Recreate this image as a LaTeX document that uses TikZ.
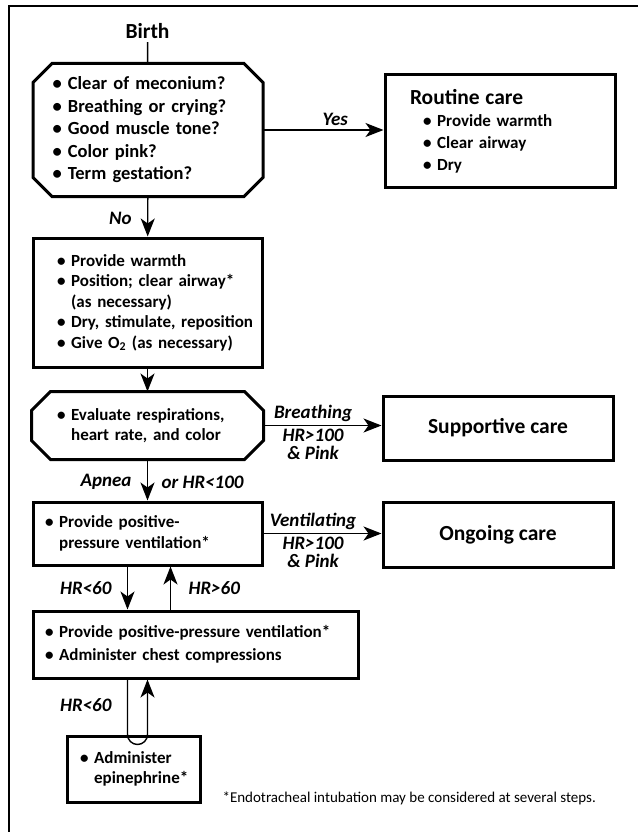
\documentclass[tikz,border=0pt]{standalone}
\usepackage{fontspec}
\setmainfont{Carlito}
\usetikzlibrary{arrows.meta,positioning}
\newcommand{\bul}{\textbullet~}
\newcommand{\bulind}{\hphantom{\textbullet~}}
\newcommand{\octo}[1]{\draw[boxline] ([xshift=19pt]#1.north west) -- ([xshift=-19pt]#1.north east) -- ([yshift=-19pt]#1.north east) -- ([yshift=19pt]#1.south east) -- ([xshift=-19pt]#1.south east) -- ([xshift=19pt]#1.south west) -- ([yshift=19pt]#1.south west) -- ([yshift=-19pt]#1.north west) -- cycle;}

\begin{document}
\begin{tikzpicture}[x=1pt, y=-1pt,
         boxline/.style={line width=3pt},
         box/.style={draw, line width=3pt, align=left, font=\fontsize{17}{21}\selectfont\bfseries},
         octbox/.style={box, draw=none},
         title/.style={font=\fontsize{21.5}{25}\selectfont\bfseries},
         lab/.style={font=\fontsize{19}{18}\selectfont\bfseries\itshape, align=center},
         arr/.style={line width=1.4pt, -{Stealth[length=18pt, width=14pt, inset=5pt]}},
         link/.style={line width=1.4pt}]
         \useasboundingbox (0,0) rectangle (638,832);
         \draw [line width=2pt] (9,832) -- (9,6) -- (638,6);
         \node [title] (BI) at (147.5, 31) {Birth};
         \node [octbox, font=\fontsize{18.5}{22.5}\selectfont\bfseries, minimum width=227pt, minimum height=130pt, inner xsep=18pt, text width=191pt] (B1) at (148, 130) {\bul Clear of meconium?\\ \bul Breathing or crying?\\ \bul Good muscle tone?\\ \bul Color pink?\\ \bul Term gestation?};
         \octo{B1}
         \node [box, font=\fontsize{17}{22}\selectfont\bfseries, minimum width=230pt, minimum height=112pt, inner xsep=25pt, text width=180pt] (RC) at (500, 131) {{\fontsize{21.5}{25}\selectfont Routine care}\\ \hspace*{13pt}\bul Provide warmth\\ \hspace*{13pt}\bul Clear airway\\ \hspace*{13pt}\bul Dry};
         \node [box, font=\fontsize{17}{20.5}\selectfont\bfseries, minimum width=229pt, minimum height=129pt, inner xsep=24pt, text width=181pt] (B2) at (147.5, 302.5) {\bul Provide warmth\\ \mbox{\bul Position; clear airway*}\\ \bulind(as necessary)\\ \mbox{\bul Dry, stimulate, reposition}\\ \mbox{\bul Give O\textsubscript{2} (as necessary)}};
         \node [octbox, font=\fontsize{17}{20}\selectfont\bfseries, minimum width=229pt, minimum height=65pt, inner xsep=24pt, text width=181pt] (B3) at (147.5, 425.5) {\mbox{\bul Evaluate respirations,}\\ \bulind heart rate, and color};
         \octo{B3}
         \node [box, title, minimum width=230pt, minimum height=64pt] (SC) at (498, 428) {Supportive care};
         \node [box, minimum width=229pt, minimum height=63pt, inner xsep=12pt, text width=205pt] (B4) at (147.5, 533.5) {\bul Provide positive-\\ \bulind pressure ventilation*};
         \node [box, title, minimum width=230pt, minimum height=65pt] (OC) at (498, 534.5) {Ongoing care};
         \node [box, font=\fontsize{17}{23}\selectfont\bfseries, minimum width=325pt, minimum height=67pt, inner xsep=12pt, text width=301pt] (B5) at (195.5, 644.5) {\mbox{\bul Provide positive-pressure ventilation*}\\ \bul Administer chest compressions};
         \node [box, font=\fontsize{17}{20}\selectfont\bfseries, minimum width=133pt, minimum height=66pt, inner xsep=13pt, text width=107pt] (B6) at (133.5, 769) {\bul Administer\\ \bulind epinephrine*};
         \node [font=\fontsize{15}{17}\selectfont, anchor=base west] (FN) at (219, 802) {*Endotracheal intubation may be considered at several steps.};
         \draw [link] (BI) -- (B1);
         \draw [arr] (B1.east) -- node [lab, above, pos=.6] {Yes} (B1.east -| RC.west);
         \draw [arr] (B1) -- node [lab, left=12pt, pos=.55] {No} (B2);
         \draw [arr] (B2) -- (B3);
         \draw [arr] (B3.east) -- node [lab, above, pos=.42] {Breathing} node [lab, below, pos=.42] {HR>100\\\& Pink} (B3.east -| SC.west);
         \draw [arr] (B3) -- node [lab, left=12pt, pos=.55] {Apnea} node [lab, right=10pt, pos=.55] {or HR<100} (B4);
         \draw [arr] (B4.east) -- node [lab, above, pos=.42] {Ventilating} node [lab, below, pos=.42] {HR>100\\\& Pink} (B4.east -| OC.west);
         \draw [arr] ([xshift=-20pt]B4.south) -- node [lab, left=12pt] {HR<60} ([xshift=-20pt]B4.south |- B5.north);
         \draw [arr] ([xshift=23pt]B4.south |- B5.north) -- node [lab, right=14pt] {HR>60} ([xshift=23pt]B4.south);
         \draw [arr] ([xshift=-20pt]B4.south |- B5.south) -- node [lab, left=12pt, pos=.47] {HR<60} ([xshift=-20pt]B4.south |- B6.north) arc [start angle=180, end angle=360, radius=10pt] -- (B4.south |- B5.south);
\end{tikzpicture}
\end{document}
